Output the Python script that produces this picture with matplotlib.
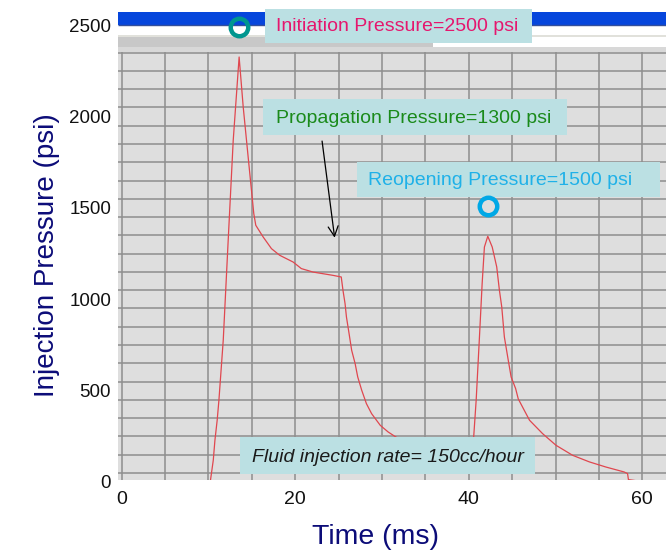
import matplotlib.pyplot as plt
from matplotlib.patches import Rectangle

plt.rcParams['font.family'] = ['Liberation Sans', 'DejaVu Sans']

# injection pressure trace
time_ms = [10.2, 10.55, 10.74, 11.0, 11.2, 11.7, 12.27, 12.85, 13.53,
           14.0, 14.57, 15.22, 15.45, 16.3, 17.26, 18.2, 19.75, 20.7, 22.05,
           24.35, 25.3, 25.5, 25.74, 25.9, 26.2, 26.5, 26.9, 27.2, 27.66,
           28.2, 28.8, 29.8, 30.7, 31.6, 34.0, 37.0,
           40.3, 40.46, 40.85, 41.23, 41.54, 41.8, 42.19, 42.7, 43.22, 43.53,
           43.8, 44.1, 44.55, 44.88, 45.4, 45.7, 47.0, 48.5, 50.05, 51.97,
           53.9, 55.8, 57.9, 58.3, 58.4, 59.6, 60.0]
pressure_psi = [0, 119, 228, 338, 447, 776, 1323, 1870, 2326,
                2053, 1779, 1469, 1405, 1341, 1277, 1241, 1204, 1168, 1149,
                1131, 1122, 1049, 976, 903, 813, 721, 648, 575, 502,
                429, 374, 310, 274, 246, 190, 150,
                120, 173, 447, 794, 1086, 1286, 1345, 1286, 1177, 1049,
                958, 794, 666, 575, 511, 455, 338, 265, 201, 146,
                110, 82, 55, 46, 13, 5, 0]

# circled points
circle_t = [13.55, 42.22]
circle_p = [2490, 1511]
circle_colors = ['#00968f', '#00a8e6']

x_ticks = [0, 20, 40, 60]
y_ticks = [0, 500, 1000, 1500, 2000, 2500]

fig = plt.figure(figsize=(6.66, 5.52), dpi=100)
ax = fig.add_axes([118 / 666, 70 / 552, 548 / 666, 482 / 552])
x0, x1 = -0.43, 62.73
ax.set_xlim(x0, x1)
ax.set_ylim(0, 2638)
for s in ax.spines.values():
    s.set_visible(False)
ax.set_xticks(x_ticks)
ax.set_yticks(y_ticks)
ax.tick_params(axis='x', length=0, labelsize=14, pad=6.8, labelcolor='#111111')
ax.tick_params(axis='y', length=0, labelsize=13.5, pad=5, labelcolor='#111111')

# grey chart panel with its own grid
panel = Rectangle((x0, 9), x1 - x0, 2343, fc='#dedede', ec='none', zorder=0)
ax.add_patch(panel)
ax.hlines(range(50, 2351, 100), x0, x1, colors='#8e8e8e', lw=1.1, zorder=1)
ax.vlines(range(0, 61, 5), 9, 2352, colors='#8e8e8e', lw=1.1, zorder=1)

# window bars above the panel
ax.add_patch(Rectangle((x0, 2499), x1 - x0, 76, fc='#0646dc', ec='none', zorder=1))
ax.hlines(2500, x0, x1, colors='#34509c', lw=1.0, zorder=2)
ax.hlines(2442, x0, x1, colors='#dcdcd4', lw=1.2, zorder=1)
ax.add_patch(Rectangle((x0, 2381), 35.9 - x0, 56, fc='#c8c8c8', ec='none', zorder=1))
ax.add_patch(Rectangle((x0, 2352), x1 - x0, 29, fc='#d8d8d8', ec='none', zorder=1))

line, = ax.plot(time_ms, pressure_psi, color='#e0474f', lw=0.9, zorder=3)
line.set_clip_path(panel)

for t, p, c in zip(circle_t, circle_p, circle_colors):
    ax.plot(t, p, marker='o', ms=12.6, mfc='none', mec=c, mew=3.2,
            zorder=7, clip_on=False)


def add_note(t0, t1, p0, p1, tx, ty, text, color, style='normal'):
    ax.add_patch(Rectangle((t0, p0), t1 - t0, p1 - p0, fc='#bbe0e3',
                           ec='none', zorder=5, clip_on=False))
    ax.text(tx, ty, text, color=color, fontsize=14, style=style,
            ha='center', va='center', zorder=6)


add_note(16.51, 47.29, 2400, 2591, 31.73, 2495,
         'Initiation Pressure=2500 psi', '#e5176e')
add_note(16.27, 51.28, 1898, 2095, 33.6, 1990,
         'Propagation Pressure=1300 psi', '#1a8a1a')
add_note(27.12, 62.04, 1560, 1752, 43.56, 1649,
         'Reopening Pressure=1500 psi', '#1fb1e8')
add_note(13.63, 47.63, 46, 246, 30.63, 135,
         'Fluid injection rate= 150cc/hour', '#1a1a1a', style='italic')

ax.annotate('', xy=(24.58, 1322), xytext=(23.05, 1881),
            arrowprops=dict(arrowstyle='->', color='black', lw=0.9,
                            mutation_scale=18), zorder=6)

ax.set_xlabel('Time (ms)', fontsize=20.5, color='#0c0c78', va='center')
ax.xaxis.set_label_coords((375 - 118) / 548, (482 - 536.7) / 482)
ax.set_ylabel('Injection Pressure (psi)', fontsize=20, color='#0c0c78',
              va='center')
ax.yaxis.set_label_coords((46.7 - 118) / 548, (482 - 255) / 482)

fig.savefig('out.png', dpi=100)
